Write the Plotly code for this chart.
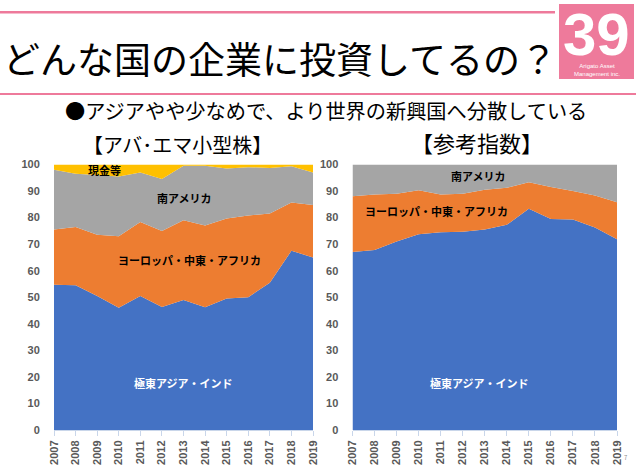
import plotly.graph_objects as go

W = 640
H = 466

years = list(range(2007, 2020))
y_ticks = list(range(0, 101, 10))

# 左: アバ・エマ小型株 (%)
left_asia = [54.7, 54.5, 50.5, 46, 50.5, 46.3, 49, 46.2, 49.5, 50, 55.5, 67.5, 65]
left_emea = [20.8, 22, 23, 27, 27.8, 28.7, 30, 30.8, 30.2, 30.8, 26, 18.2, 19.7]
left_latam = [22.5, 20, 22.5, 22.5, 18.7, 19.5, 20.5, 22.5, 18.8, 18.2, 17.2, 13.6, 12.3]
left_cash = [2, 3.5, 4, 4.5, 3, 5.5, 0.5, 0.5, 1.5, 1, 1.3, 0.7, 3]

# 右: 参考指数 (%)
right_asia = [67, 67.8, 71, 73.7, 74.5, 74.7, 75.5, 77.3, 83.3, 79.5, 79.3, 76.3, 71.8]
right_emea = [21, 20.9, 18, 16.6, 14.2, 14.3, 15, 13.9, 10, 12, 10.7, 12, 14]
right_latam = [12, 11.3, 11, 9.7, 11.3, 11, 9.5, 8.8, 6.7, 8.5, 10, 11.7, 14.2]

BLUE = "#4472C4"
ORANGE = "#ED7D31"
GRAY = "#A5A5A5"
YELLOW = "#FFC000"
PINK = "#EE7A9B"
JP = "Noto Sans CJK JP"


def px(x):
    return x / W


def py(y):
    return 1 - y / H


def area(name, values, color, xa, ya, group):
    return go.Scatter(
        x=years, y=values, name=name, mode="lines", stackgroup=group,
        line=dict(width=0, color=color), fillcolor=color,
        xaxis=xa, yaxis=ya, showlegend=False,
    )


fig = go.Figure()
fig.add_trace(area("極東アジア・インド", left_asia, BLUE, "x", "y", "left"))
fig.add_trace(area("ヨーロッパ・中東・アフリカ", left_emea, ORANGE, "x", "y", "left"))
fig.add_trace(area("南アメリカ", left_latam, GRAY, "x", "y", "left"))
fig.add_trace(area("現金等", left_cash, YELLOW, "x", "y", "left"))
fig.add_trace(area("極東アジア・インド", right_asia, BLUE, "x2", "y2", "right"))
fig.add_trace(area("ヨーロッパ・中東・アフリカ", right_emea, ORANGE, "x2", "y2", "right"))
fig.add_trace(area("南アメリカ", right_latam, GRAY, "x2", "y2", "right"))

xaxis_style = dict(
    range=[2007, 2019], tickvals=years, tickangle=-90, showgrid=False,
    zeroline=False, showline=True, linecolor="#c9d6ea", linewidth=1,
    ticks="outside", ticklen=5, tickcolor="#c9d6ea", automargin=False,
    tickfont=dict(family="Liberation Sans", size=11, color="#595959", weight="bold"),
)
# 目盛りは透明にして、ラベルだけ軸から離す
yaxis_style = dict(
    range=[0, 100], tickvals=y_ticks, showgrid=False, zeroline=False,
    showline=False, ticks="outside", ticklen=11, tickcolor="rgba(0,0,0,0)", automargin=False,
    tickfont=dict(family="Liberation Sans", size=11, color="#595959", weight="bold"),
)

fig.update_layout(
    width=W, height=H, margin=dict(l=0, r=0, t=0, b=0),
    paper_bgcolor="white", plot_bgcolor="white", showlegend=False,
    xaxis=dict(domain=[px(54), px(313)], anchor="y", **xaxis_style),
    yaxis=dict(domain=[py(430), py(164.5)], anchor="x", **yaxis_style),
    xaxis2=dict(domain=[px(352.5), px(617)], anchor="y2", **xaxis_style),
    yaxis2=dict(domain=[py(430), py(164.5)], anchor="x2", **yaxis_style),
)

# ピンクの罫線とロゴ
fig.add_shape(type="rect", xref="paper", yref="paper", x0=0, x1=px(555), y0=py(13.5), y1=py(11),
              fillcolor=PINK, line_width=0)
fig.add_shape(type="rect", xref="paper", yref="paper", x0=0, x1=px(636), y0=py(95), y1=py(93),
              fillcolor=PINK, line_width=0)
fig.add_shape(type="rect", xref="paper", yref="paper", x0=px(559), x1=px(634), y0=py(79), y1=py(4),
              fillcolor=PINK, line_width=0)


def label(text, x, y, size, color="black", family=JP, weight=None):
    fig.add_annotation(
        text=text, xref="paper", yref="paper", x=px(x), y=py(y),
        xanchor="center", yanchor="middle", showarrow=False,
        font=dict(family=family, size=size, color=color, weight=weight),
    )


label("どんな国の企業に投資してるの？", 280, 58, 37)
label("●アジアやや少なめで、より世界の新興国へ分散している", 326, 110, 20.2)
label("【アバ･エマ小型株】", 177, 144, 20)
label("【参考指数】", 477, 142, 22)
label("39", 596, 34, 60, "white", "Liberation Sans", "bold")
label("Arigato Asset<br>Management inc.", 597, 70, 6, "white", "Liberation Sans")

label("現金等", 104, 170, 11, weight="bold")
label("南アメリカ", 184, 198, 11, weight="bold")
label("ヨーロッパ・中東・アフリカ", 189, 260, 11, weight="bold")
label("極東アジア・インド", 183, 383, 11, "white", weight="bold")
label("南アメリカ", 478, 176, 11, weight="bold")
label("ヨーロッパ・中東・アフリカ", 436, 211, 11, weight="bold")
label("極東アジア・インド", 479, 383, 11, "white", weight="bold")
label("7", 626, 457, 6, "#888888")

fig.write_html(
    "out.html",
    config=dict(displayModeBar=False),
    post_script="document.body.style.margin='0';document.body.style.overflow='hidden';",
)
